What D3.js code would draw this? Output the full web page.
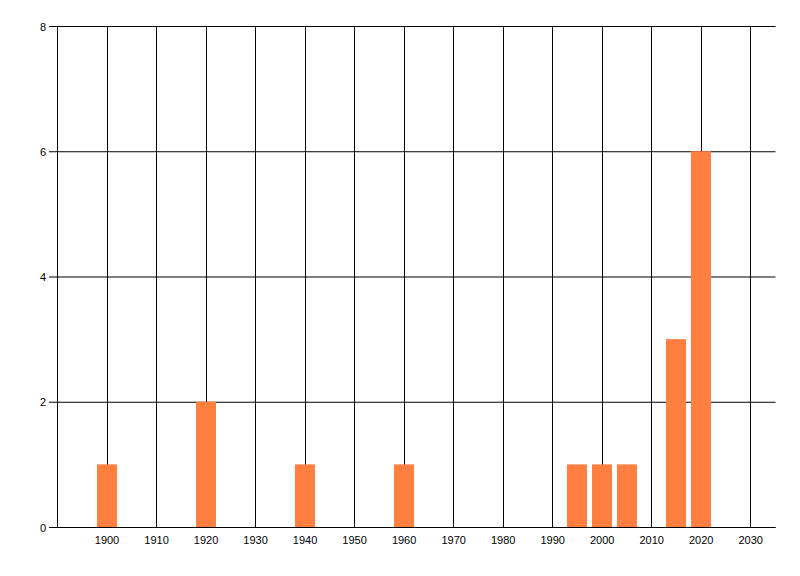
<!DOCTYPE html>
<html><head><meta charset="utf-8">
<script src="https://cdn.jsdelivr.net/npm/d3@7"></script>
<style>body{margin:0;background:#fff}svg{display:block}</style>
</head><body>
<svg id="c" width="800" height="576"></svg>
<script>
const years = [1900, 1920, 1940, 1960, 1995, 2000, 2005, 2015, 2020];
const counts = [1, 2, 1, 1, 1, 1, 1, 3, 6];
const xTicks = [1900, 1910, 1920, 1930, 1940, 1950, 1960, 1970, 1980, 1990, 2000, 2010, 2020, 2030];
const yTicks = [0, 2, 4, 6, 8];
const barYears = 4;

const svg = d3.select("#c");
const x = d3.scaleLinear().domain([1890, 2035]).range([57.5, 775.5]);
const y = d3.scaleLinear().domain([0, 8]).range([527.5, 26.5]);
const font = "'Liberation Sans', Arial, sans-serif";

// vertical grid
svg.append("g").selectAll("line").data(xTicks).join("line")
  .attr("x1", d => Math.floor(x(d)) + 0.5).attr("x2", d => Math.floor(x(d)) + 0.5)
  .attr("y1", y(8)).attr("y2", y(0))
  .attr("stroke", "#000").attr("stroke-width", 1);
// horizontal grid with ticks
svg.append("g").selectAll("line").data(yTicks).join("line")
  .attr("x1", 49).attr("x2", x(2035))
  .attr("y1", d => y(d)).attr("y2", d => y(d))
  .attr("stroke", "#000").attr("stroke-width", 1);
// y axis line
svg.append("line").attr("x1", x(1890)).attr("x2", x(1890)).attr("y1", y(8)).attr("y2", y(0))
  .attr("stroke", "#000");

// bars
svg.append("g").selectAll("rect").data(years).join("rect")
  .attr("x", d => Math.floor(x(d - barYears / 2)))
  .attr("width", d => Math.round(x(d + barYears / 2) - x(d - barYears / 2)))
  .attr("y", (d, i) => y(counts[i]) - 0.5)
  .attr("height", (d, i) => y(0) - y(counts[i]))
  .attr("fill", "#ff7f40");

// bottom axis line over bars
svg.append("line").attr("x1", 49).attr("x2", x(2035)).attr("y1", y(0)).attr("y2", y(0))
  .attr("stroke", "#000");

// labels
svg.append("g").selectAll("text").data(yTicks).join("text")
  .attr("x", 46).attr("y", d => y(d) + 4)
  .attr("text-anchor", "end").attr("font-family", font).attr("font-size", 11)
  .attr("fill", "#000").text(d => d);
svg.append("g").selectAll("text").data(xTicks).join("text")
  .attr("x", d => x(d)).attr("y", 544)
  .attr("text-anchor", "middle").attr("font-family", font).attr("font-size", 11)
  .attr("fill", "#000").text(d => d);
</script>
</body></html>
